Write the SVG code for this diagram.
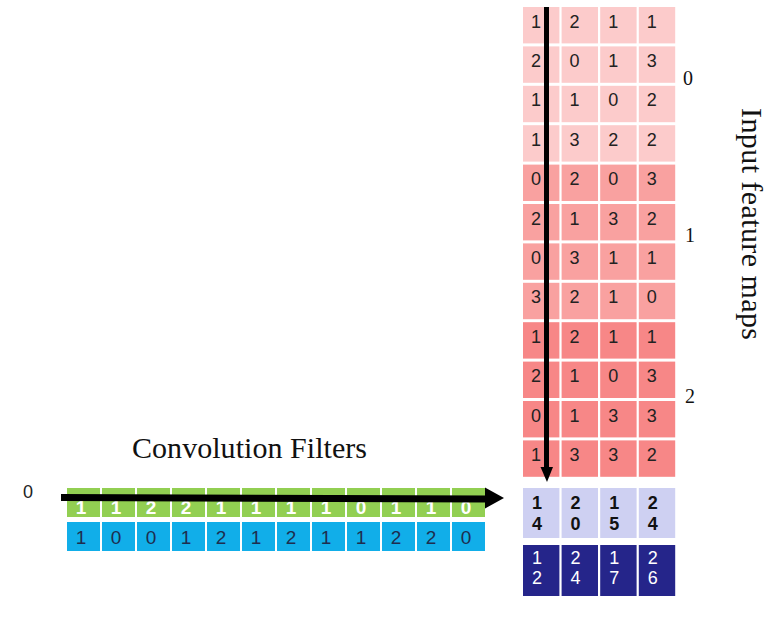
<svg xmlns="http://www.w3.org/2000/svg" width="783" height="623" viewBox="0 0 783 623">
<style>
.g1{fill:#FCCBCB}.g2{fill:#F9A1A0}.g3{fill:#F78787}
.lav{fill:#CED0F2}.nav{fill:#25258A}
.grn{fill:#92CF52}.blu{fill:#11AEE9}
.d{font-family:"Liberation Sans",Arial,sans-serif;font-size:18px;text-anchor:middle;fill:#222}
.db{font-family:"Liberation Sans",Arial,sans-serif;font-size:18px;font-weight:bold;text-anchor:middle;fill:#111}
.dw{font-family:"Liberation Sans",Arial,sans-serif;font-size:18px;text-anchor:middle;fill:#fff}
.fb{font-family:"Liberation Sans",Arial,sans-serif;font-size:19px;text-anchor:middle;fill:#1E2D4F}
.fw{font-family:"Liberation Sans",Arial,sans-serif;font-size:19px;font-weight:bold;text-anchor:middle;fill:#fff}
.s{font-family:"Liberation Serif","Times New Roman",serif;fill:#111}
</style>
<rect width="783" height="623" fill="#fff"/>
<g id="input-maps">
<g id="map0" class="g1">
<rect x="523" y="7" width="36.4" height="36.4"/><rect x="561.6" y="7" width="36.4" height="36.4"/><rect x="600.2" y="7" width="36.4" height="36.4"/><rect x="638.8" y="7" width="36.4" height="36.4"/>
<rect x="523" y="46.4" width="36.4" height="36.4"/><rect x="561.6" y="46.4" width="36.4" height="36.4"/><rect x="600.2" y="46.4" width="36.4" height="36.4"/><rect x="638.8" y="46.4" width="36.4" height="36.4"/>
<rect x="523" y="85.8" width="36.4" height="36.4"/><rect x="561.6" y="85.8" width="36.4" height="36.4"/><rect x="600.2" y="85.8" width="36.4" height="36.4"/><rect x="638.8" y="85.8" width="36.4" height="36.4"/>
<rect x="523" y="125.2" width="36.4" height="36.4"/><rect x="561.6" y="125.2" width="36.4" height="36.4"/><rect x="600.2" y="125.2" width="36.4" height="36.4"/><rect x="638.8" y="125.2" width="36.4" height="36.4"/>
</g>
<g id="map1" class="g2">
<rect x="523" y="164.6" width="36.4" height="36.4"/><rect x="561.6" y="164.6" width="36.4" height="36.4"/><rect x="600.2" y="164.6" width="36.4" height="36.4"/><rect x="638.8" y="164.6" width="36.4" height="36.4"/>
<rect x="523" y="204" width="36.4" height="36.4"/><rect x="561.6" y="204" width="36.4" height="36.4"/><rect x="600.2" y="204" width="36.4" height="36.4"/><rect x="638.8" y="204" width="36.4" height="36.4"/>
<rect x="523" y="243.4" width="36.4" height="36.4"/><rect x="561.6" y="243.4" width="36.4" height="36.4"/><rect x="600.2" y="243.4" width="36.4" height="36.4"/><rect x="638.8" y="243.4" width="36.4" height="36.4"/>
<rect x="523" y="282.8" width="36.4" height="36.4"/><rect x="561.6" y="282.8" width="36.4" height="36.4"/><rect x="600.2" y="282.8" width="36.4" height="36.4"/><rect x="638.8" y="282.8" width="36.4" height="36.4"/>
</g>
<g id="map2" class="g3">
<rect x="523" y="322.2" width="36.4" height="36.4"/><rect x="561.6" y="322.2" width="36.4" height="36.4"/><rect x="600.2" y="322.2" width="36.4" height="36.4"/><rect x="638.8" y="322.2" width="36.4" height="36.4"/>
<rect x="523" y="361.6" width="36.4" height="36.4"/><rect x="561.6" y="361.6" width="36.4" height="36.4"/><rect x="600.2" y="361.6" width="36.4" height="36.4"/><rect x="638.8" y="361.6" width="36.4" height="36.4"/>
<rect x="523" y="401" width="36.4" height="36.4"/><rect x="561.6" y="401" width="36.4" height="36.4"/><rect x="600.2" y="401" width="36.4" height="36.4"/><rect x="638.8" y="401" width="36.4" height="36.4"/>
<rect x="523" y="440.4" width="36.4" height="36.4"/><rect x="561.6" y="440.4" width="36.4" height="36.4"/><rect x="600.2" y="440.4" width="36.4" height="36.4"/><rect x="638.8" y="440.4" width="36.4" height="36.4"/>
</g>
<g id="input-values" class="d">
<text x="536" y="27.5">1</text><text x="574.6" y="27.5">2</text><text x="613.2" y="27.5">1</text><text x="651.8" y="27.5">1</text>
<text x="536" y="66.9">2</text><text x="574.6" y="66.9">0</text><text x="613.2" y="66.9">1</text><text x="651.8" y="66.9">3</text>
<text x="536" y="106.3">1</text><text x="574.6" y="106.3">1</text><text x="613.2" y="106.3">0</text><text x="651.8" y="106.3">2</text>
<text x="536" y="145.7">1</text><text x="574.6" y="145.7">3</text><text x="613.2" y="145.7">2</text><text x="651.8" y="145.7">2</text>
<text x="536" y="185.1">0</text><text x="574.6" y="185.1">2</text><text x="613.2" y="185.1">0</text><text x="651.8" y="185.1">3</text>
<text x="536" y="224.5">2</text><text x="574.6" y="224.5">1</text><text x="613.2" y="224.5">3</text><text x="651.8" y="224.5">2</text>
<text x="536" y="263.9">0</text><text x="574.6" y="263.9">3</text><text x="613.2" y="263.9">1</text><text x="651.8" y="263.9">1</text>
<text x="536" y="303.3">3</text><text x="574.6" y="303.3">2</text><text x="613.2" y="303.3">1</text><text x="651.8" y="303.3">0</text>
<text x="536" y="342.7">1</text><text x="574.6" y="342.7">2</text><text x="613.2" y="342.7">1</text><text x="651.8" y="342.7">1</text>
<text x="536" y="382.1">2</text><text x="574.6" y="382.1">1</text><text x="613.2" y="382.1">0</text><text x="651.8" y="382.1">3</text>
<text x="536" y="421.5">0</text><text x="574.6" y="421.5">1</text><text x="613.2" y="421.5">3</text><text x="651.8" y="421.5">3</text>
<text x="536" y="460.9">1</text><text x="574.6" y="460.9">3</text><text x="613.2" y="460.9">3</text><text x="651.8" y="460.9">2</text>
</g>
</g>
<g id="output-row-1">
<g class="lav">
<rect x="523" y="488" width="36.4" height="50"/><rect x="561.6" y="488" width="36.4" height="50"/><rect x="600.2" y="488" width="36.4" height="50"/><rect x="638.8" y="488" width="36.4" height="50"/>
</g>
<g class="db">
<text x="537" y="508.5">1</text><text x="537" y="530">4</text>
<text x="575.6" y="508.5">2</text><text x="575.6" y="530">0</text>
<text x="614.2" y="508.5">1</text><text x="614.2" y="530">5</text>
<text x="652.8" y="508.5">2</text><text x="652.8" y="530">4</text>
</g>
</g>
<g id="output-row-2">
<g class="nav">
<rect x="523" y="545" width="36.4" height="51"/><rect x="561.6" y="545" width="36.4" height="51"/><rect x="600.2" y="545" width="36.4" height="51"/><rect x="638.8" y="545" width="36.4" height="51"/>
</g>
<g class="dw">
<text x="537" y="563.5">1</text><text x="537" y="584">2</text>
<text x="575.6" y="563.5">2</text><text x="575.6" y="584">4</text>
<text x="614.2" y="563.5">1</text><text x="614.2" y="584">7</text>
<text x="652.8" y="563.5">2</text><text x="652.8" y="584">6</text>
</g>
</g>
<g id="filter-green">
<g class="grn">
<rect x="67" y="488" width="33" height="29"/><rect x="102" y="488" width="33" height="29"/><rect x="137" y="488" width="33" height="29"/><rect x="172" y="488" width="33" height="29"/>
<rect x="207" y="488" width="33" height="29"/><rect x="242" y="488" width="33" height="29"/><rect x="277" y="488" width="33" height="29"/><rect x="312" y="488" width="33" height="29"/>
<rect x="347" y="488" width="33" height="29"/><rect x="382" y="488" width="33" height="29"/><rect x="417" y="488" width="33" height="29"/><rect x="452" y="488" width="33" height="29"/>
</g>
<g class="fw">
<text x="81" y="514">1</text><text x="116" y="514">1</text><text x="151" y="514">2</text><text x="186" y="514">2</text>
<text x="221" y="514">1</text><text x="256" y="514">1</text><text x="291" y="514">1</text><text x="326" y="514">1</text>
<text x="361" y="514">0</text><text x="396" y="514">1</text><text x="431" y="514">1</text><text x="466" y="514">0</text>
</g>
</g>
<g id="filter-blue">
<g class="blu">
<rect x="67" y="522" width="33" height="29"/><rect x="102" y="522" width="33" height="29"/><rect x="137" y="522" width="33" height="29"/><rect x="172" y="522" width="33" height="29"/>
<rect x="207" y="522" width="33" height="29"/><rect x="242" y="522" width="33" height="29"/><rect x="277" y="522" width="33" height="29"/><rect x="312" y="522" width="33" height="29"/>
<rect x="347" y="522" width="33" height="29"/><rect x="382" y="522" width="33" height="29"/><rect x="417" y="522" width="33" height="29"/><rect x="452" y="522" width="33" height="29"/>
</g>
<g class="fb">
<text x="81" y="544">1</text><text x="116" y="544">0</text><text x="151" y="544">0</text><text x="186" y="544">1</text>
<text x="221" y="544">2</text><text x="256" y="544">1</text><text x="291" y="544">2</text><text x="326" y="544">1</text>
<text x="361" y="544">1</text><text x="396" y="544">2</text><text x="431" y="544">2</text><text x="466" y="544">0</text>
</g>
</g>
<g id="labels">
<text class="s" x="683" y="85" font-size="20">0</text>
<text class="s" x="685" y="242" font-size="20">1</text>
<text class="s" x="685" y="403" font-size="20">2</text>
<text class="s" font-size="30" transform="translate(742,108) rotate(90)" x="0" y="0" textLength="232">Input feature maps</text>
<text class="s" x="132" y="458" font-size="30" textLength="235">Convolution Filters</text>
<text x="23" y="498" font-family="Liberation Sans, Arial, sans-serif" font-size="18" fill="#222">0</text>
</g>
<g id="connectors">
<line x1="546.5" y1="7" x2="546.5" y2="468" stroke="#000" stroke-width="5"/>
<polygon points="540.5,467 553,467 547,482" fill="#000"/>
<line x1="61" y1="497.5" x2="487" y2="499" stroke="#000" stroke-width="7"/>
<polygon points="485,487.5 485,508.5 504,498" fill="#000"/>
</g>
</svg>
